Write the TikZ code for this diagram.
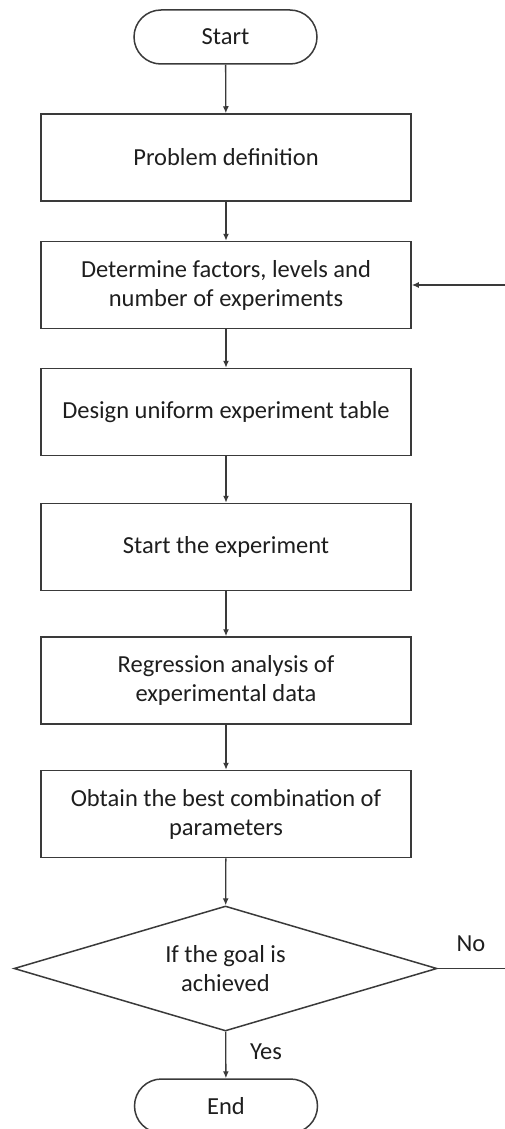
\documentclass[tikz,border=0pt]{standalone}
\usepackage{fontspec}
\setmainfont{Carlito}
\usetikzlibrary{shapes.geometric,arrows.meta}
\definecolor{linec}{HTML}{3A3A3A}
\definecolor{textc}{HTML}{1E1E1E}
\begin{document}
\begin{tikzpicture}[x=1pt,y=-1pt,
  every node/.style={font=\fontsize{24.5}{29}\selectfont, text=textc, align=center},
  procbox/.style={draw=linec, line width=1.5pt, rectangle, inner sep=0pt, minimum width=370pt, minimum height=87pt},
  termbox/.style={draw=linec, line width=1.5pt, rectangle, rounded corners=27pt, inner sep=0pt, minimum width=183pt, minimum height=54pt},
  decbox/.style={draw=linec, line width=1.5pt, diamond, aspect=3.384, inner sep=0pt, minimum width=423pt, minimum height=125pt},
  flow/.style={draw=linec, line width=1.3pt, -{Latex[length=7pt,width=6pt]}},
  lbl/.style={font=\fontsize{24.5}{28}\selectfont}]
\useasboundingbox (0,0) rectangle (504,1129);
\node[termbox] (start) at (225.5,37) {Start};
\node[procbox] (prob) at (226,157.5) {Problem definition};
\node[procbox] (det) at (226,285) {Determine factors, levels and\\number of experiments};
\node[procbox] (des) at (226,412) {Design uniform experiment table};
\node[procbox] (sexp) at (226,547) {Start the experiment};
\node[procbox] (reg) at (226,680.5) {Regression analysis of\\experimental data};
\node[procbox] (obt) at (226,814) {Obtain the best combination of\\parameters};
\node[decbox] (goal) at (225.5,968.5) {If the goal is\\achieved};
\node[termbox] (end) at (226,1106) {End};
\coordinate (c1) at (508,968.5);
\node[lbl] (no) at (471,944) {No};
\node[lbl] (yes) at (266,1052) {Yes};
\draw[flow] (start) -- (prob);
\draw[flow] (prob) -- (det);
\draw[flow] (det) -- (des);
\draw[flow] (des) -- (sexp);
\draw[flow] (sexp) -- (reg);
\draw[flow] (reg) -- (obt);
\draw[flow] (obt) -- (goal);
\draw[flow] (goal) -- (end);
\draw[flow] (goal.east) -- (c1) |- (det.east);
\end{tikzpicture}
\end{document}
